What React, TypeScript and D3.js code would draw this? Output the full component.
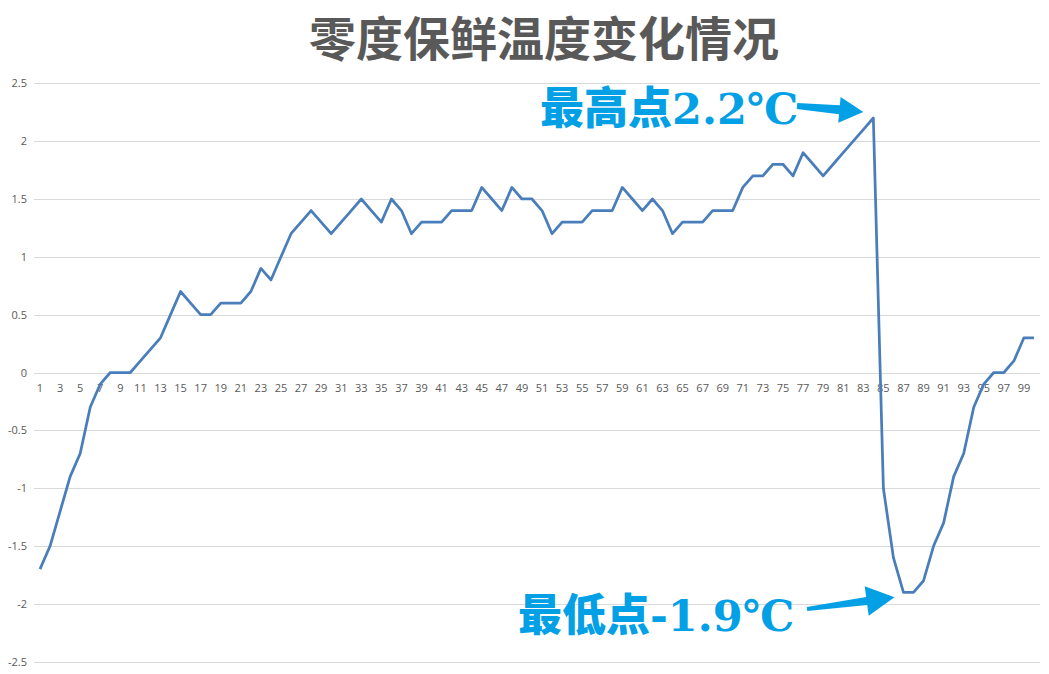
import React, { useEffect, useRef } from 'react';
import * as d3 from 'd3';

// Temperature readings, one per sample (1..100)
const samples: number[] = d3.range(1, 101);
const temps: number[] = [
  -1.7, -1.5, -1.2, -0.9, -0.7, -0.3, -0.1, 0, 0, 0,
  0.1, 0.2, 0.3, 0.5, 0.7, 0.6, 0.5, 0.5, 0.6, 0.6,
  0.6, 0.7, 0.9, 0.8, 1.0, 1.2, 1.3, 1.4, 1.3, 1.2,
  1.3, 1.4, 1.5, 1.4, 1.3, 1.5, 1.4, 1.2, 1.3, 1.3,
  1.3, 1.4, 1.4, 1.4, 1.6, 1.5, 1.4, 1.6, 1.5, 1.5,
  1.4, 1.2, 1.3, 1.3, 1.3, 1.4, 1.4, 1.4, 1.6, 1.5,
  1.4, 1.5, 1.4, 1.2, 1.3, 1.3, 1.3, 1.4, 1.4, 1.4,
  1.6, 1.7, 1.7, 1.8, 1.8, 1.7, 1.9, 1.8, 1.7, 1.8,
  1.9, 2.0, 2.1, 2.2, -1.0, -1.6, -1.9, -1.9, -1.8, -1.5,
  -1.3, -0.9, -0.7, -0.3, -0.1, 0, 0, 0.1, 0.3, 0.3,
];
const yTicks: number[] = [-2.5, -2, -1.5, -1, -0.5, 0, 0.5, 1, 1.5, 2, 2.5];
const xTickLabels: number[] = samples.filter(s => s % 2 === 1);

const title = '零度保鲜温度变化情况';
const maxLabel = { cjk: '最高点', num: '2.2℃' };
const minLabel = { cjk: '最低点', num: '-1.9℃' };

const W = 1049;
const H = 674;
const ANNOT = '#03a0e6';

// tapered arrow polygon from (x1,y1) to tip (x2,y2)
function arrowPath(x1: number, y1: number, x2: number, y2: number,
  tailW: number, neckW: number, headLen: number, headW: number) {
  const dx = x2 - x1, dy = y2 - y1;
  const len = Math.hypot(dx, dy);
  const ux = dx / len, uy = dy / len;
  const nx = -uy, ny = ux;
  const bx = x2 - ux * headLen, by = y2 - uy * headLen;
  const pts: [number, number][] = [
    [x1 + nx * tailW / 2, y1 + ny * tailW / 2],
    [bx + nx * neckW / 2, by + ny * neckW / 2],
    [bx + nx * headW / 2, by + ny * headW / 2],
    [x2, y2],
    [bx - nx * headW / 2, by - ny * headW / 2],
    [bx - nx * neckW / 2, by - ny * neckW / 2],
    [x1 - nx * tailW / 2, y1 - ny * tailW / 2],
  ];
  return 'M' + pts.map(p => p.join(',')).join('L') + 'Z';
}

const App: React.FC = () => {
  const svgRef = useRef<SVGSVGElement>(null);

  useEffect(() => {
    if (!svgRef.current) return;
    const svg = d3.select(svgRef.current);
    svg.selectAll('*').remove();

    const x = d3.scalePoint<number>()
      .domain(samples)
      .range([35, 1039])
      .padding(0.5);
    const y = d3.scaleLinear()
      .domain([-2.5, 2.5])
      .range([661.7, 83.3]);

    // Gridlines
    svg.append('g')
      .selectAll('line')
      .data(yTicks)
      .enter()
      .append('line')
      .attr('x1', 34)
      .attr('x2', 1040)
      .attr('y1', d => Math.round(y(d)) + 0.5)
      .attr('y2', d => Math.round(y(d)) + 0.5)
      .attr('stroke', '#d9d9d9')
      .attr('stroke-width', 1);

    // Y labels
    svg.append('g')
      .selectAll('text')
      .data(yTicks)
      .enter()
      .append('text')
      .attr('x', 27)
      .attr('y', d => y(d) + 4)
      .attr('text-anchor', 'end')
      .attr('font-family', '"Open Sans", "Liberation Sans", sans-serif')
      .attr('font-size', 11)
      .attr('fill', '#595959')
      .text(d => String(d));

    // X labels (every other sample)
    svg.append('g')
      .selectAll('text')
      .data(xTickLabels)
      .enter()
      .append('text')
      .attr('x', d => x(d) as number)
      .attr('y', y(0) + 19)
      .attr('text-anchor', 'middle')
      .attr('font-family', '"Open Sans", "Liberation Sans", sans-serif')
      .attr('font-size', 11)
      .attr('fill', '#595959')
      .text(d => String(d));

    // Line
    const line = d3.line<number>()
      .x((_, i) => x(samples[i]) as number)
      .y(d => y(d));
    svg.append('path')
      .datum(temps)
      .attr('d', line)
      .attr('fill', 'none')
      .attr('stroke', '#4a7ebb')
      .attr('stroke-width', 2.75)
      .attr('stroke-linejoin', 'round');

    // Title
    svg.append('text')
      .attr('x', 544)
      .attr('y', 56)
      .attr('text-anchor', 'middle')
      .attr('font-family', '"Noto Sans CJK SC", sans-serif')
      .attr('font-weight', 700)
      .attr('font-size', 47)
      .attr('fill', '#595959')
      .text(title);

    // Annotations
    const iMax = temps.indexOf(d3.max(temps) as number);
    const iMin = temps.indexOf(d3.min(temps) as number);
    const maxX = x(samples[iMax]) as number;
    const maxY = y(temps[iMax]);
    const minX = x(samples[iMin]) as number;
    const minY = y(temps[iMin]);

    const addLabel = (lx: number, ly: number, lab: { cjk: string; num: string }) => {
      const t = svg.append('text')
        .attr('x', lx)
        .attr('y', ly)
        .attr('fill', ANNOT);
      t.append('tspan')
        .attr('font-family', '"Noto Sans CJK SC", sans-serif')
        .attr('font-weight', 900)
        .attr('font-size', 44)
        .attr('letter-spacing', 0)
        .text(lab.cjk);
      t.append('tspan')
        .attr('font-family', '"DejaVu Serif", serif')
        .attr('font-weight', 700)
        .attr('font-size', 43)
        .text(lab.num);
    };

    addLabel(540, 124, maxLabel);
    addLabel(518, 631, minLabel);

    svg.append('path')
      .attr('d', arrowPath(797, 106, maxX - 10, maxY - 6, 6, 9, 24, 26))
      .attr('fill', ANNOT);
    svg.append('path')
      .attr('d', arrowPath(807, 609, minX - 9, minY + 5, 4, 8, 28, 30))
      .attr('fill', ANNOT);
  }, []);

  return (
    <svg
      ref={svgRef}
      width={W}
      height={H}
      style={{ position: 'absolute', left: 0, top: 0, background: '#ffffff' }}
    />
  );
};

export default App;
